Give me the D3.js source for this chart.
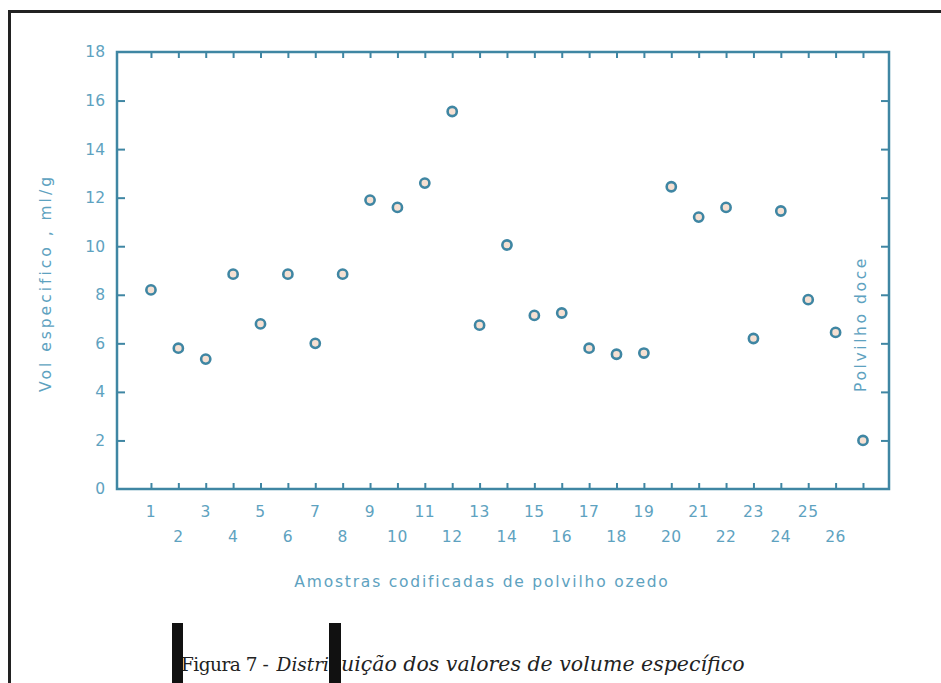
<!DOCTYPE html>
<html><head><meta charset="utf-8">
<script src="https://cdn.jsdelivr.net/npm/d3@7"></script>
<style>body{margin:0;background:#fff}</style>
</head><body>
<svg id="c" width="941" height="683"></svg>
<script>
// ---- data ----
const samples = [1,2,3,4,5,6,7,8,9,10,11,12,13,14,15,16,17,18,19,20,21,22,23,24,25,26,27];
const volumes = [8.2,5.8,5.35,8.85,6.8,8.85,6.0,8.85,11.9,11.6,12.6,15.55,6.75,10.05,7.15,7.25,5.8,5.55,5.6,12.45,11.2,11.6,6.2,11.45,7.8,6.45,2.0];
const xTickLabels = ["1","2","3","4","5","6","7","8","9","10","11","12","13","14","15","16","17","18","19","20","21","22","23","24","25","26"];
const yTicks = [0,2,4,6,8,10,12,14,16,18];
const yTitle = "Vol  especifico , ml/g";
const xTitle = "Amostras codificadas de polvilho ozedo";
const sideLabel = "Polvilho doce";
const captionA = "Figura 7 -";
const captionB1 = "Distri";
const captionB2 = "b";
const captionB3 = "uição dos valores de volume específico";

// ---- layout ----
const svg = d3.select("#c");
const L = 117, R = 889, T = 52, B = 489;
const axisColor = "#3f86a3", textColor = "#5ea2c0";
const x = d3.scaleLinear().domain([-0.24, 27.95]).range([L, R]);
const y = d3.scaleLinear().domain([0, 18]).range([B, T]);

// outer frame (left and top)
svg.append("path").attr("d", `M9.5,683 V11.5 H941`).attr("fill","none").attr("stroke","#222").attr("stroke-width",3);

const g = svg.append("g");
// plot box
g.append("rect").attr("x",L).attr("y",T).attr("width",R-L).attr("height",B-T)
  .attr("fill","none").attr("stroke",axisColor).attr("stroke-width",2.5);

// axes with inward ticks
g.append("g").attr("transform",`translate(0,${B})`)
  .call(d3.axisTop(x).tickValues(samples).tickSize(6).tickFormat(""));
g.append("g").attr("transform",`translate(0,${T})`)
  .call(d3.axisBottom(x).tickValues(samples).tickSize(6).tickFormat(""));
g.append("g").attr("transform",`translate(${L},0)`)
  .call(d3.axisRight(y).tickValues(yTicks.slice(1,-1)).tickSize(8).tickFormat(""));
g.append("g").attr("transform",`translate(${R},0)`)
  .call(d3.axisLeft(y).tickValues(yTicks.slice(1,-1)).tickSize(8).tickFormat(""));
g.selectAll(".domain").remove();
g.selectAll(".tick line").attr("stroke",axisColor).attr("stroke-width",2);

const font = "'DejaVu Sans', sans-serif";
// y tick labels
g.selectAll(".ylab").data(yTicks).join("text")
  .attr("x", L - 12).attr("y", d => y(d)).attr("dy","0.35em")
  .attr("text-anchor","end").attr("font-family",font).attr("font-size",15.5)
  .attr("fill",textColor).text(d => d);

// x tick labels, staggered
g.selectAll(".xlab").data(xTickLabels).join("text")
  .attr("x", (d,i) => x(samples[i])).attr("y", (d,i) => (i % 2 === 0) ? B + 23 : B + 48)
  .attr("dy","0.35em").attr("text-anchor","middle").attr("font-family",font).attr("font-size",15.5)
  .attr("letter-spacing",0.5).attr("fill",textColor).text(d => d);

// axis titles
g.append("text").attr("transform",`translate(46,283) rotate(-90)`)
  .attr("text-anchor","middle").attr("dy","0.35em").attr("font-family",font).attr("font-size",15.5)
  .attr("letter-spacing",3).attr("fill",textColor).text(yTitle);
g.append("text").attr("x",482).attr("y",582).attr("dy","0.35em")
  .attr("text-anchor","middle").attr("font-family",font).attr("font-size",15.5)
  .attr("letter-spacing",1.8).attr("fill",textColor).text(xTitle);
g.append("text").attr("transform",`translate(${x(27)-2},324) rotate(-90)`)
  .attr("text-anchor","middle").attr("dy","0.35em").attr("font-family",font).attr("font-size",15.5)
  .attr("letter-spacing",2.6).attr("fill",textColor).text(sideLabel);

// points
g.selectAll(".pt").data(volumes).join("circle")
  .attr("cx",(d,i)=>x(samples[i])).attr("cy",d=>y(d)).attr("r",4.6)
  .attr("fill","#f6e0d2").attr("stroke",axisColor).attr("stroke-width",2.6);

// caption
const capFont = "'DejaVu Serif','Liberation Serif',serif";
const capY = 671;
svg.append("text").attr("x",181).attr("y",capY).attr("font-family",capFont).attr("font-size",18.5)
  .attr("letter-spacing",-0.5).attr("fill","#222").text(captionA);
svg.append("text").attr("x",329).attr("y",capY).attr("text-anchor","end").attr("font-family",capFont)
  .attr("font-style","italic").attr("font-size",18.5).attr("fill","#222").text(captionB1);
svg.append("text").attr("x",330).attr("y",capY).attr("font-family",capFont)
  .attr("font-style","italic").attr("font-size",18.5).attr("fill","#222").text(captionB2);
svg.append("text").attr("x",341).attr("y",capY).attr("font-family",capFont)
  .attr("font-style","italic").attr("font-size",20.5).attr("fill","#222").text(captionB3);
// black bars overlaying caption
svg.append("rect").attr("x",172).attr("y",623).attr("width",11).attr("height",60).attr("fill","#111");
svg.append("rect").attr("x",329).attr("y",623).attr("width",12).attr("height",60).attr("fill","#111");
</script>
</body></html>
